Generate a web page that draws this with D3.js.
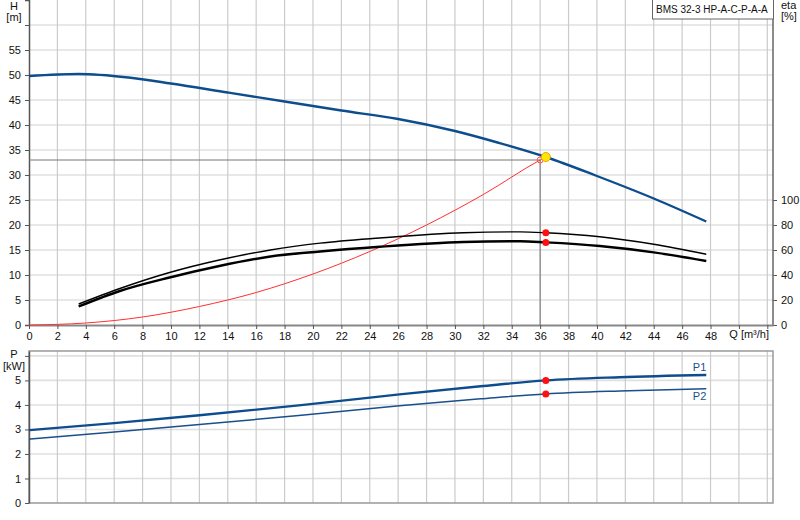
<!DOCTYPE html>
<html>
<head>
<meta charset="utf-8">
<script src="https://d3js.org/d3.v7.min.js"></script>
<style>
  body { margin: 0; background: #fff; }
  text { font-family: "Liberation Sans", Arial, sans-serif; font-size: 11px; fill: #111; }
</style>
</head>
<body>
<div id="chart"></div>
<script>
var qHead = [0, 3.5, 7, 10, 14, 18, 22, 26, 30, 33, 36.4, 40, 44, 47.7];
var head  = [49.8, 50.2, 49.5, 48.3, 46.5, 44.7, 42.9, 41.2, 38.8, 36.5, 33.6, 29.8, 25.3, 20.7];

var qSys = [0, 4, 8, 12, 16, 20, 24, 28, 32, 36, 36.4];
var hSys = [0, 0.4, 1.6, 3.7, 6.5, 10.2, 14.7, 20.0, 26.1, 33.0, 33.6];

var qEta = [3.5, 6.4, 9.9, 13.4, 17, 20.5, 24.7, 30.6, 34.6, 36.4, 40.2, 44, 47.7];
var eta1 = [16.8, 29.2, 42, 52, 60, 65.5, 69.6, 73.8, 74.5, 73.8, 70.6, 64.6, 56.6];
var eta2 = [14.8, 27.2, 38, 47.2, 54.8, 58.8, 62.6, 66.4, 67.0, 66.1, 63.2, 58.1, 51.2];

var qPow = [0, 6, 12, 19, 26.1, 31.8, 36.4, 41.6, 47.7];
var p1   = [2.97, 3.26, 3.58, 3.98, 4.43, 4.76, 5.0, 5.13, 5.22];
var p2   = [2.61, 2.9, 3.2, 3.57, 3.97, 4.25, 4.45, 4.57, 4.66];

var duty = { q: 36, h: 33 };
var work = { q: 36.4, h: 33.6, eta1: 73.8, eta2: 66.1, p1: 5.0, p2: 4.45 };

var qGrid = d3.range(0, 53, 2);
var hTicks = [0, 5, 10, 15, 20, 25, 30, 35, 40, 45, 50, 55];
var hGrid = [5, 10, 15, 20, 25, 30, 35, 40, 45, 50, 55, 60];
var etaTicks = [0, 20, 40, 60, 80, 100];
var pTicks = [0, 1, 2, 3, 4, 5];
var pGrid = [1, 2, 3, 4, 5, 6];

var W = 800, H = 520;
var left = 29, right = 773;

var svg = d3.select("#chart").append("svg")
    .attr("width", W).attr("height", H);
svg.append("rect").attr("width", W).attr("height", H).attr("fill", "#fff");

var x = d3.scaleLinear().domain([0, 52.4]).range([left, right]);
var y = d3.scaleLinear().domain([0, 65]).range([325, 0]);
var ye = d3.scaleLinear().domain([0, 100]).range([325, 200]);
var yp = d3.scaleLinear().domain([0, 6.2]).range([503, 351]);

function pts(xs, ys) { return xs.map(function (d, i) { return [d, ys[i]]; }); }

// ---------- top chart (H / eta) ----------
var gTop = svg.append("g");

gTop.selectAll(".hg").data(hGrid).enter().append("line")
    .attr("x1", left).attr("x2", right)
    .attr("y1", d => y(d)).attr("y2", d => y(d))
    .attr("stroke", "#e0e0e0").attr("stroke-width", 1.6);
gTop.selectAll(".vg").data(qGrid.slice(1)).enter().append("line")
    .attr("x1", d => x(d)).attr("x2", d => x(d))
    .attr("y1", 0).attr("y2", y(0))
    .attr("stroke", "#cbcbcb").attr("stroke-width", 1.2);

// left axis H
var axH = gTop.append("g").attr("transform", "translate(" + left + ",0)")
    .call(d3.axisLeft(y).tickValues(hTicks.concat([60])).tickSize(4).tickFormat(d => d === 60 ? "" : d));
axH.select(".domain").attr("stroke", "#555").attr("stroke-width", 1.5);
axH.selectAll(".tick line").attr("stroke", "#555");
axH.selectAll(".tick text").attr("x", -8).style("font-size", "11px").attr("fill", "#111");

// right axis eta
var axE = gTop.append("g").attr("transform", "translate(" + right + ",0)")
    .call(d3.axisRight(ye).tickValues(etaTicks).tickSize(4).tickSizeOuter(0));
axE.select(".domain").remove();
axE.append("line").attr("x1", 0).attr("x2", 0).attr("y1", 0).attr("y2", y(0))
    .attr("stroke", "#666").attr("stroke-width", 1.5);
axE.selectAll(".tick line").attr("stroke", "#555");
axE.selectAll(".tick text").attr("x", 8).style("font-size", "11px").attr("fill", "#111");

// bottom axis Q
var axQ = gTop.append("g").attr("transform", "translate(0," + y(0) + ")")
    .call(d3.axisBottom(x).tickValues(qGrid).tickSize(4).tickSizeOuter(0)
        .tickFormat(d => d <= 48 ? d : ""));
axQ.select(".domain").attr("stroke", "#888").attr("stroke-width", 2);
axQ.selectAll(".tick line").attr("stroke", "#555");
axQ.selectAll(".tick text").attr("y", 7).style("font-size", "11px").attr("fill", "#111");

gTop.append("text").attr("x", 769).attr("y", 338).attr("text-anchor", "end").text("Q [m³/h]");
gTop.append("text").attr("x", 14).attr("y", 10).attr("text-anchor", "middle").text("H");
gTop.append("text").attr("x", 14).attr("y", 21).attr("text-anchor", "middle").text("[m]");
gTop.append("text").attr("x", 781).attr("y", 9).text("eta");
gTop.append("text").attr("x", 781).attr("y", 20).text("[%]");

// duty point guide lines
gTop.append("path")
    .attr("d", "M" + left + "," + y(duty.h) + "H" + x(duty.q) + "V" + y(0))
    .attr("fill", "none").attr("stroke", "#777").attr("stroke-width", 1);

var lineH = d3.line().x(d => x(d[0])).y(d => y(d[1])).curve(d3.curveMonotoneX);
var lineE = d3.line().x(d => x(d[0])).y(d => ye(d[1])).curve(d3.curveMonotoneX);
var lineP = d3.line().x(d => x(d[0])).y(d => yp(d[1])).curve(d3.curveMonotoneX);

gTop.append("path").attr("d", lineH(pts(qSys, hSys)))
    .attr("fill", "none").attr("stroke", "#ff3030").attr("stroke-width", 1);
gTop.append("path").attr("d", lineE(pts(qEta, eta1)))
    .attr("fill", "none").attr("stroke", "#000").attr("stroke-width", 1.4);
gTop.append("path").attr("d", lineE(pts(qEta, eta2)))
    .attr("fill", "none").attr("stroke", "#000").attr("stroke-width", 2.4);
gTop.append("path").attr("d", lineH(pts(qHead, head)))
    .attr("fill", "none").attr("stroke", "#0d4d8e").attr("stroke-width", 2.4);

gTop.append("circle").attr("cx", x(duty.q)).attr("cy", y(duty.h)).attr("r", 3)
    .attr("fill", "none").attr("stroke", "#ff5050").attr("stroke-width", 1);
gTop.append("circle").attr("cx", x(work.q)).attr("cy", y(work.h)).attr("r", 4.5)
    .attr("fill", "#ffe800").attr("stroke", "#f0a000").attr("stroke-width", 1);
gTop.selectAll(".ed").data([work.eta1, work.eta2]).enter().append("circle")
    .attr("cx", x(work.q)).attr("cy", d => ye(d)).attr("r", 3.5).attr("fill", "#ff1010");

// legend box
gTop.append("rect").attr("x", 652.5).attr("y", -1).attr("width", 121).attr("height", 20)
    .attr("fill", "#fff").attr("stroke", "#666").attr("stroke-width", 1);
gTop.append("text").attr("x", 656).attr("y", 13).style("font-size", "10px")
    .text("BMS 32-3 HP-A-C-P-A-A");

// ---------- bottom chart (P) ----------
var gBot = svg.append("g");

gBot.selectAll(".hg").data(pGrid).enter().append("line")
    .attr("x1", left).attr("x2", right)
    .attr("y1", d => yp(d)).attr("y2", d => yp(d))
    .attr("stroke", "#e0e0e0").attr("stroke-width", 1.6);
gBot.selectAll(".vg").data(qGrid.slice(1)).enter().append("line")
    .attr("x1", d => x(d)).attr("x2", d => x(d))
    .attr("y1", yp(6.2)).attr("y2", yp(0))
    .attr("stroke", "#cbcbcb").attr("stroke-width", 1.2);

gBot.append("rect").attr("x", left).attr("y", yp(6.2))
    .attr("width", right - left).attr("height", yp(0) - yp(6.2))
    .attr("fill", "none").attr("stroke", "#999").attr("stroke-width", 1.5);

var axP = gBot.append("g").attr("transform", "translate(" + left + ",0)")
    .call(d3.axisLeft(yp).tickValues(pTicks.concat([6])).tickSize(4).tickSizeOuter(0)
        .tickFormat(d => d === 6 ? "" : d));
axP.select(".domain").attr("stroke", "#555").attr("stroke-width", 1.5);
axP.selectAll(".tick line").attr("stroke", "#555");
axP.selectAll(".tick text").attr("x", -8).style("font-size", "11px").attr("fill", "#111");

gBot.append("text").attr("x", 14).attr("y", 358).attr("text-anchor", "middle").text("P");
gBot.append("text").attr("x", 14).attr("y", 370).attr("text-anchor", "middle").text("[kW]");

gBot.append("path").attr("d", lineP(pts(qPow, p2)))
    .attr("fill", "none").attr("stroke", "#1a4f8c").attr("stroke-width", 1.5);
gBot.append("path").attr("d", lineP(pts(qPow, p1)))
    .attr("fill", "none").attr("stroke", "#0d4d8e").attr("stroke-width", 2.4);

gBot.selectAll(".pd").data([work.p1, work.p2]).enter().append("circle")
    .attr("cx", x(work.q)).attr("cy", d => yp(d)).attr("r", 3.5).attr("fill", "#ff1010");

gBot.append("text").attr("x", x(47.7)).attr("y", yp(p1[p1.length - 1]) - 4)
    .attr("text-anchor", "end").style("fill", "#1a4f8c").text("P1");
gBot.append("text").attr("x", x(47.7)).attr("y", yp(p2[p2.length - 1]) + 11)
    .attr("text-anchor", "end").style("fill", "#1a4f8c").text("P2");
</script>
</body>
</html>
